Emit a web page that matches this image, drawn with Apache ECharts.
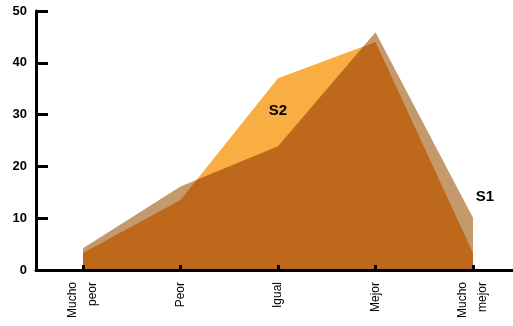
<!DOCTYPE html>
<html>
<head>
<meta charset="utf-8">
<script src="https://cdn.jsdelivr.net/npm/echarts@6/dist/echarts.min.js"></script>
<style>
  html, body { margin: 0; padding: 0; background: #fff; }
  #chart { width: 513px; height: 326px; }
</style>
</head>
<body>
<div id="chart"></div>
<script>
// Answer categories (two-line labels)
const categories = ['Mucho\npeor', 'Peor', 'Igual', 'Mejor', 'Mucho\nmejor'];
// Series values
const s1Values = [4.2, 16.1, 23.9, 45.9, 10.1];
const s2Values = [3.3, 13.5, 37.0, 44.0, 3.3];
// Value-axis ticks
const yMin = 0, yMax = 50, yStep = 10;

const chart = echarts.init(document.getElementById('chart'), null, { renderer: 'canvas' });

const gridTop = 11, gridBottom = 56;
const nameFont = {
  color: '#000', fontWeight: 'bold', fontSize: 15,
  fontFamily: '"Liberation Sans", Arial, sans-serif'
};

// Series name placed next to one of its own points
function nameTag(text, idx, values, offset) {
  return {
    symbol: 'circle', symbolSize: 0, silent: true,
    data: [{
      coord: [idx, values[idx]],
      label: Object.assign({ show: true, formatter: text, position: 'inside', offset: offset }, nameFont)
    }]
  };
}

chart.setOption({
  animation: false,
  backgroundColor: '#ffffff',
  grid: [
    // frame grid: carries the y axis and the full-width baseline
    { left: 36, right: 0, top: gridTop, bottom: gridBottom },
    // data grid: the five categories
    { left: 83, right: 40, top: gridTop, bottom: gridBottom }
  ],
  xAxis: [
    {
      gridIndex: 0, type: 'value', min: 0, max: 1, z: 10,
      axisLine: { show: true, lineStyle: { color: '#000', width: 3 } },
      axisTick: { show: false }, axisLabel: { show: false }, splitLine: { show: false }
    },
    {
      gridIndex: 1, type: 'category', data: categories, boundaryGap: false, z: 10,
      axisLine: { show: false },
      axisTick: { show: true, inside: true, length: 5, lineStyle: { color: '#000', width: 3 } },
      axisLabel: {
        rotate: 90, margin: 12, color: '#000',
        fontFamily: '"Liberation Sans", Arial, sans-serif',
        fontSize: 12, lineHeight: 20, padding: [0, 0, 4, 0]
      },
      splitLine: { show: false }
    }
  ],
  yAxis: [
    {
      gridIndex: 0, type: 'value', min: yMin, max: yMax, interval: yStep, z: 10,
      axisLine: { show: true, lineStyle: { color: '#000', width: 3 } },
      axisTick: { show: true, inside: true, length: 12, lineStyle: { color: '#000', width: 3 } },
      axisLabel: {
        margin: 9, color: '#000', fontWeight: 'bold', fontSize: 13,
        fontFamily: '"Liberation Sans", Arial, sans-serif'
      },
      splitLine: { show: false }
    },
    {
      gridIndex: 1, type: 'value', min: yMin, max: yMax, interval: yStep, show: false
    }
  ],
  series: [
    {
      name: 'S2', type: 'line', xAxisIndex: 1, yAxisIndex: 1,
      symbol: 'none', blendMode: 'multiply',
      lineStyle: { width: 0 },
      areaStyle: { color: '#F8AE42', opacity: 1 },
      data: s2Values,
      markPoint: nameTag('S2', 2, s2Values, [0, 33])
    },
    {
      name: 'S1', type: 'line', xAxisIndex: 1, yAxisIndex: 1,
      symbol: 'none', blendMode: 'multiply',
      lineStyle: { width: 0 },
      areaStyle: { color: '#C4996C', opacity: 1 },
      data: s1Values,
      markPoint: nameTag('S1', 4, s1Values, [12, -21])
    }
  ]
});
</script>
</body>
</html>
